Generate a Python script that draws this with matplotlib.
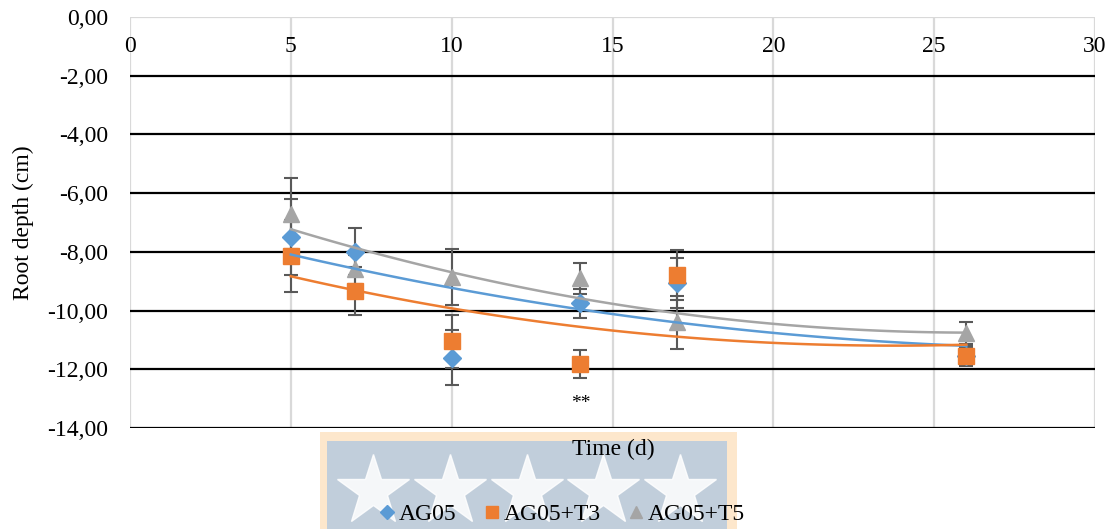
import matplotlib.pyplot as plt
import numpy as np
from matplotlib.patches import Rectangle

plt.rcParams['font.family'] = ['Liberation Serif', 'DejaVu Serif']

# data
days = [5, 7, 10, 14, 17, 26]
ag05 = [-7.5, -8.0, -11.6, -9.75, -9.06, -11.55]
ag05_err = [1.3, 0.8, 0.95, 0.5, 0.86, 0.3]
ag05_t3 = [-8.14, -9.33, -11.04, -11.82, -8.79, -11.55]
ag05_t3_err = [1.23, 0.82, 0.9, 0.47, 0.85, 0.35]
ag05_t5 = [-6.7, -8.6, -8.85, -8.9, -10.4, -10.76]
ag05_t5_err = [1.2, 0.5, 0.95, 0.53, 0.9, 0.38]
series_names = ['AG05', 'AG05+T3', 'AG05+T5']

blue = '#5b9bd5'
orange = '#ed7d31'
grey = '#a5a5a5'
fs = 17

fig = plt.figure(figsize=(11.15, 5.29), dpi=100)
ax = fig.add_axes([130 / 1115, 1 - 428 / 529, 965 / 1115, 411 / 529])

ax.set_xlim(0, 30)
ax.set_ylim(-14, 0)

# grid: black horizontal lines, light grey verticals
for y in np.arange(-2, -15, -2):
    ax.axhline(y, color='black', lw=1.6, zorder=1)
ax.axhline(0, color='#d9d9d9', lw=1.6, zorder=1)
for x in np.arange(5, 31, 5):
    ax.axvline(x, color='#d9d9d9', lw=1.6, zorder=0)
ax.axvline(0, color='#d9d9d9', lw=1.6, zorder=0)
for s in ax.spines.values():
    s.set_visible(False)

ax.set_xticks([])
yt = np.arange(0, -15, -2)
ax.set_yticks(yt)
ax.set_yticklabels([('%.2f' % v).replace('.', ',') for v in yt], fontsize=fs)
ax.tick_params(axis='y', length=0, pad=16)
ax.set_ylabel('Root depth (cm)', fontsize=fs)
ax.yaxis.set_label_coords(-96 / 965, 0.5)

for x in range(0, 31, 5):
    ax.text(x, -1.02, str(x), ha='center', va='center', fontsize=fs)

fits = []
for vals, err, col, mk, ms, name in [
        (ag05, ag05_err, blue, 'D', 9, series_names[0]),
        (ag05_t3, ag05_t3_err, orange, 's', 11, series_names[1]),
        (ag05_t5, ag05_t5_err, grey, '^', 11, series_names[2])]:
    ax.errorbar(days, vals, yerr=err, fmt='none', ecolor='#595959', elinewidth=1.5,
                capsize=5, capthick=1.5, zorder=3)
    ax.plot(days, vals, ls='none', marker=mk, ms=ms, color=col, zorder=4, label=name)
    coef = np.polyfit(days, vals, 2)
    xx = np.linspace(days[0], days[-1], 100)
    fits.append((xx, np.polyval(coef, xx), col))
for xx, yy, col in fits:
    ax.plot(xx, yy, color=col, lw=1.8, zorder=5)

ax.text(14, -13.15, '**', ha='center', va='center', fontsize=14)

# watermark box behind the axis title and legend
fig.patches.append(Rectangle((320 / 1115, 0), 417 / 1115, 97 / 529, transform=fig.transFigure,
                             facecolor='#fde7cc', edgecolor='none', zorder=-2))
fig.patches.append(Rectangle((327 / 1115, 0), 400 / 1115, 88 / 529, transform=fig.transFigure,
                             facecolor='#c1cedb', edgecolor='none', zorder=-1))
star_x = [373, 450, 527, 603, 680]
for sx in star_x:
    fig.add_artist(plt.Line2D([sx / 1115], [1 - 491 / 529], marker='*', ms=54, color='white',
                              alpha=0.85, transform=fig.transFigure, ls='none'))

fig.text(613 / 1115, 1 - 449 / 529, 'Time (d)', ha='center', va='center', fontsize=fs)
fig.legend(loc='center', bbox_to_anchor=(560 / 1115, 1 - 514 / 529), ncol=3, frameon=False,
           fontsize=fs, handletextpad=0.0, columnspacing=1.0, handlelength=1.0,
           markerscale=0.75)

fig.savefig('out.png', dpi=100)
